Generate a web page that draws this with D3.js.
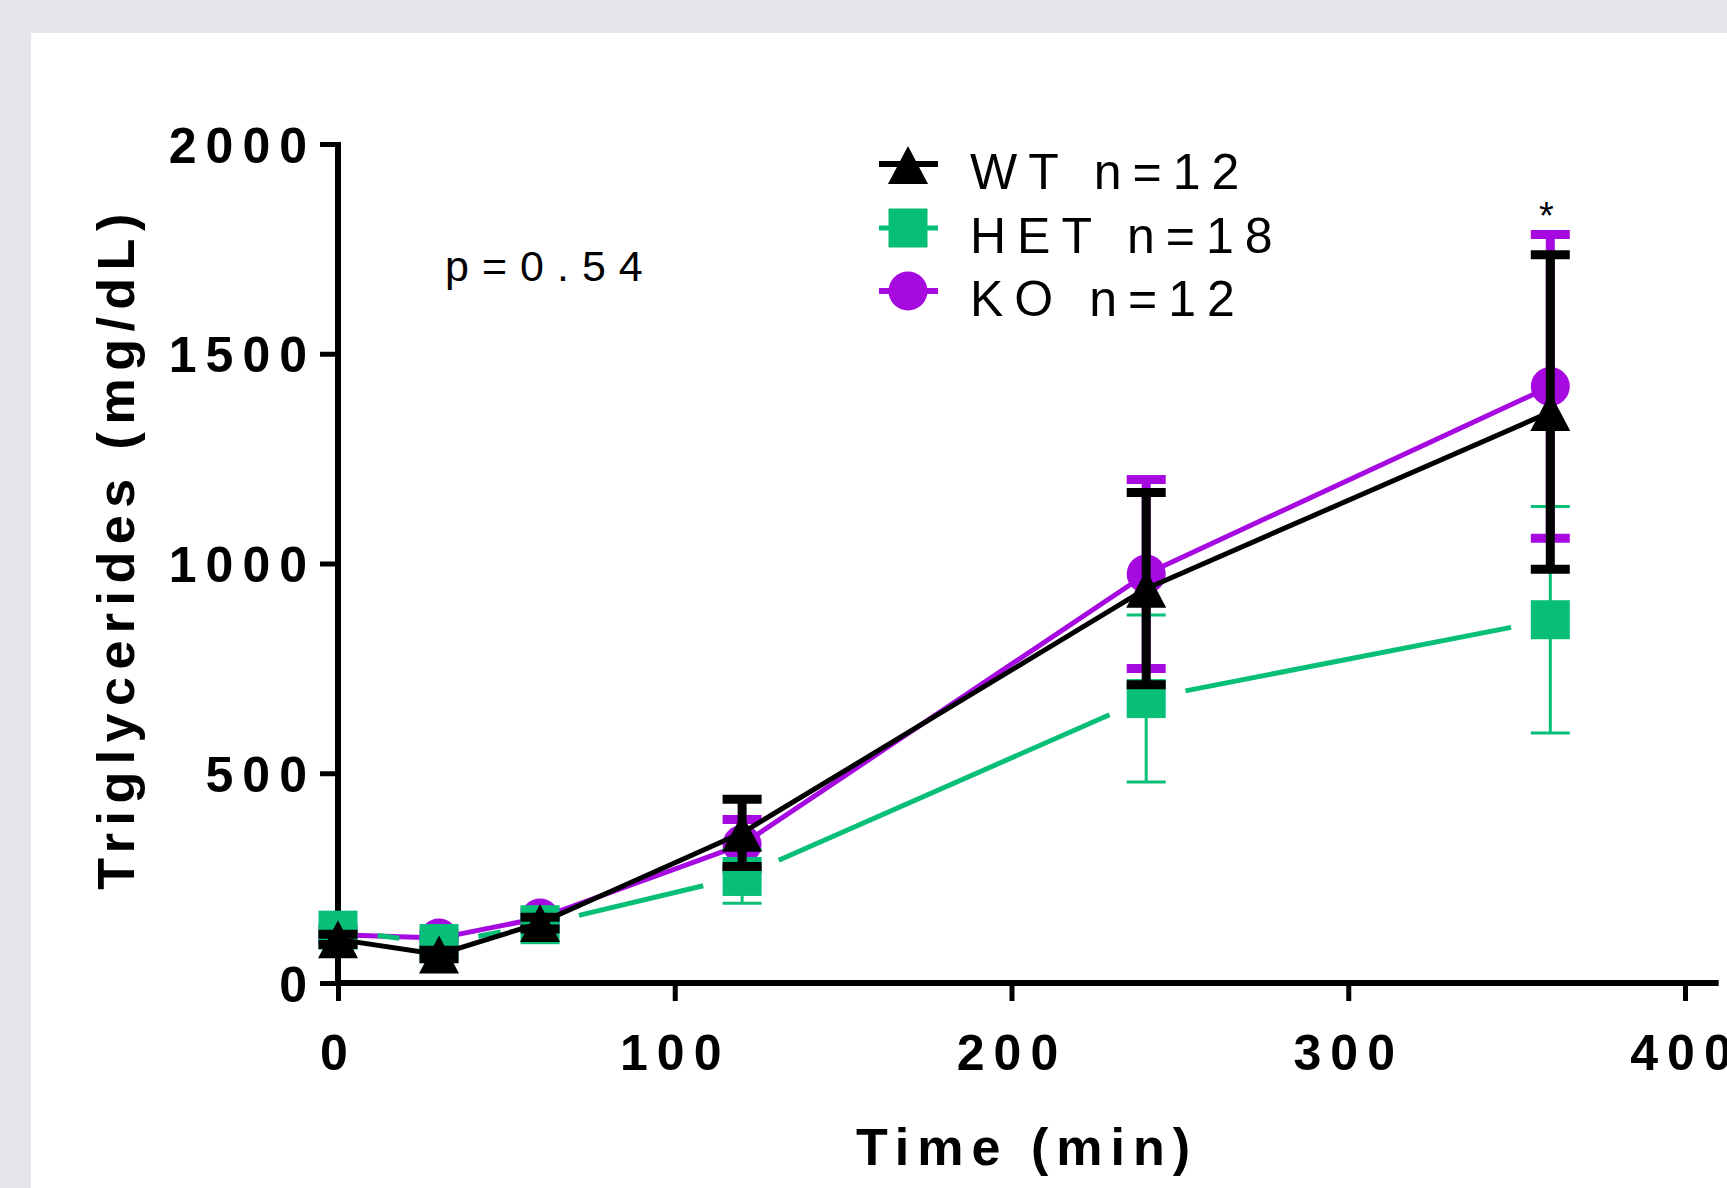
<!DOCTYPE html>
<html>
<head>
<meta charset="utf-8">
<script src="https://cdnjs.cloudflare.com/ajax/libs/d3/7.8.5/d3.min.js"></script>
<style>
    body { margin: 0; background: #e4e6eb; }
    svg { display: block; }
    text { font-family: "Liberation Sans", Arial, sans-serif; }
</style>
</head>
<body>
<svg id="chart" width="1727" height="1188"></svg>
<script>
// data (mean +/- SEM, mg/dL)
var times = [0, 30, 60, 120, 240, 360];
var wtMean = [104, 68, 143, 358, 940, 1361];
var wtSem = [12, 10, 14, 80, 229, 375];
var hetMean = [126, 94, 139, 254, 678, 866];
var hetSem = [10, 9, 12, 64, 199, 270];
var koMean = [115, 107, 155, 330, 975, 1422];
var koSem = [12, 10, 14, 60, 225, 362];

var xTicks = [0, 100, 200, 300, 400];
var yTicks = [0, 500, 1000, 1500, 2000];
var legendNames = ["WT", "HET", "KO"];
var legendN = [12, 18, 12];
var pText = "p=0.54";
var starTimes = [360];

var svg = d3.select("#chart");

// white panel
svg.append("rect").attr("x", 31).attr("y", 33).attr("width", 1727 - 31).attr("height", 1188 - 33).attr("fill", "#ffffff");

var x = d3.scaleLinear().domain([0, 400]).range([338, 1685]);
var y = d3.scaleLinear().domain([0, 2000]).range([983, 144]);

var colors = {WT: "#000000", HET: "#08bf78", KO: "#a70ae0"};

/*
 * Achsen
 */
var tickLen = 18;
var gx = svg.append("g").attr("transform", "translate(0," + y(0) + ")")
        .call(d3.axisBottom(x).tickValues(xTicks).tickFormat(d3.format("d")).tickSize(tickLen).tickSizeOuter(0).tickPadding(34));
var gy = svg.append("g").attr("transform", "translate(" + x(0) + ",0)")
        .call(d3.axisLeft(y).tickValues(yTicks).tickFormat(d3.format("d")).tickSize(tickLen).tickSizeOuter(0).tickPadding(13));
[gx, gy].forEach(function (g) {
    g.select(".domain").remove();
    g.selectAll(".tick line").attr("stroke", "#000").attr("stroke-width", 5);
    g.selectAll(".tick text")
            .attr("fill", "#000")
            .style("font-size", "50px")
            .style("font-weight", "bold")
            .style("letter-spacing", "9px");
});
gx.selectAll(".tick text").attr("dy", 0).attr("y", 87).attr("dx", 0);
gy.selectAll(".tick text").attr("dy", 18).attr("dx", 9);

// axis lines drawn separately so the x line runs past 400
svg.append("line").attr("x1", x(0)).attr("x2", x(0)).attr("y1", y(2000) - 2).attr("y2", y(0))
        .attr("stroke", "#000").attr("stroke-width", 6);
svg.append("line").attr("x1", x(0)).attr("x2", x(410)).attr("y1", y(0)).attr("y2", y(0))
        .attr("stroke", "#000").attr("stroke-width", 6);

// axis titles
svg.append("text").attr("x", 1027).attr("y", 1165).attr("text-anchor", "middle")
        .style("font-size", "52px").style("font-weight", "bold").style("letter-spacing", "8px")
        .text("Time (min)");
svg.append("text").attr("transform", "translate(134,548) rotate(-90)").attr("text-anchor", "middle")
        .style("font-size", "52px").style("font-weight", "bold").style("letter-spacing", "7.5px")
        .text("Triglycerides (mg/dL)");

/*
 * Marker
 */
function drawMarker(g, kind, cx, cy, col) {
    if (kind === "WT") {
        g.append("path").attr("d", "M" + cx + "," + (cy - 19) + "L" + (cx + 20) + "," + (cy + 19) + "L" + (cx - 20) + "," + (cy + 19) + "Z")
                .attr("fill", col);
    } else if (kind === "HET") {
        g.append("rect").attr("x", cx - 19.5).attr("y", cy - 19.5).attr("width", 39).attr("height", 39).attr("fill", col);
    } else {
        g.append("circle").attr("cx", cx).attr("cy", cy).attr("r", 19.5).attr("fill", col);
    }
}

function drawSeries(kind, means, sems, barW, gapLine) {
    var col = colors[kind];
    var g = svg.append("g");
    var pts = times.map(function (t, i) { return [x(t), y(means[i])]; });
    if (gapLine) {
        // HET: Linie zwischen den Punkten mit Abstand zu den Symbolen
        for (var i = 0; i < pts.length - 1; i++) {
            var a = pts[i], b = pts[i + 1];
            var dx = b[0] - a[0], dy = b[1] - a[1];
            var len = Math.sqrt(dx * dx + dy * dy);
            var ux = dx / len, uy = dy / len;
            g.append("line")
                    .attr("x1", a[0] + ux * 40).attr("y1", a[1] + uy * 40)
                    .attr("x2", b[0] - ux * 40).attr("y2", b[1] - uy * 40)
                    .attr("stroke", col).attr("stroke-width", 5);
        }
    } else {
        g.append("path").datum(pts).attr("d", d3.line()).attr("fill", "none")
                .attr("stroke", col).attr("stroke-width", 5).attr("stroke-linejoin", "round");
    }
    times.forEach(function (t, i) {
        var cx = x(t), top = y(means[i] + sems[i]), bot = y(means[i] - sems[i]);
        g.append("line").attr("x1", cx).attr("x2", cx).attr("y1", top).attr("y2", bot)
                .attr("stroke", col).attr("stroke-width", barW);
        [top, bot].forEach(function (yy) {
            g.append("line").attr("x1", cx - 19.5).attr("x2", cx + 19.5).attr("y1", yy).attr("y2", yy)
                    .attr("stroke", col).attr("stroke-width", barW);
        });
    });
    pts.forEach(function (p) { drawMarker(g, kind, p[0], p[1], col); });
}

drawSeries("KO", koMean, koSem, 9, false);
drawSeries("HET", hetMean, hetSem, 3, true);
drawSeries("WT", wtMean, wtSem, 9, false);

// significance star
starTimes.forEach(function (t) {
    var i = times.indexOf(t);
    svg.append("text").attr("x", x(t) - 4).attr("y", y(koMean[i] + koSem[i]) - 6).attr("text-anchor", "middle")
            .style("font-size", "38px").text("*");
});

// p value
svg.append("text").attr("x", 445).attr("y", 281).style("font-size", "43px").style("letter-spacing", "13px").text(pText);

/*
 * Legende
 */
var legRows = [164, 228, 291];
legendNames.forEach(function (name, i) {
    var g = svg.append("g");
    var ly = legRows[i];
    g.append("line").attr("x1", 879).attr("x2", 938).attr("y1", ly).attr("y2", ly)
            .attr("stroke", colors[name]).attr("stroke-width", name === "HET" ? 5 : 6);
    drawMarker(g, name, 908, ly + (name === "WT" ? 1 : 0), colors[name]);
    g.append("text").attr("x", 970).attr("y", ly + 25).style("font-size", "50px").style("letter-spacing", "11px")
            .text(name + " n=" + legendN[i]);
});
</script>
</body>
</html>
